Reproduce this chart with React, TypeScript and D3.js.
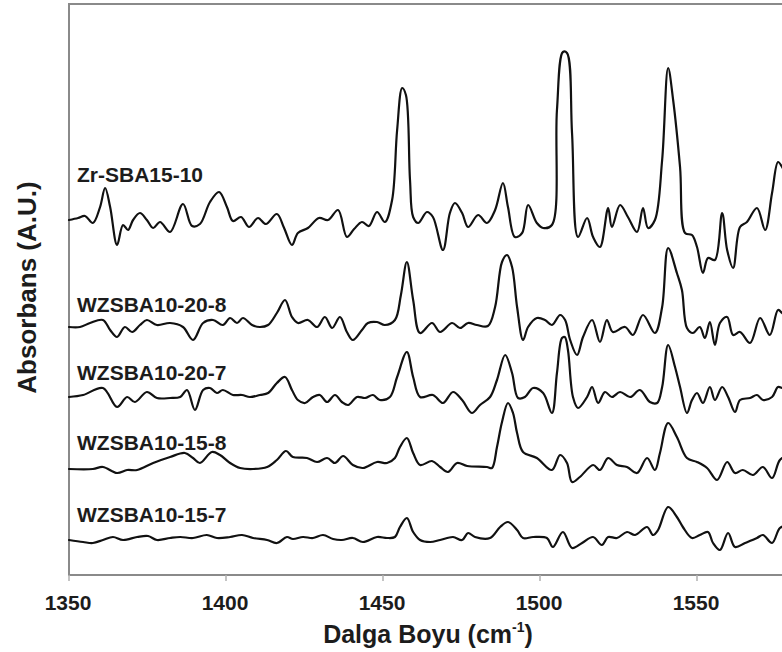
import React from "react";
import * as d3 from "d3";

type Pt = [number, number];

const seriesNames = ["Zr-SBA15-10", "WZSBA10-20-8", "WZSBA10-20-7", "WZSBA10-15-8", "WZSBA10-15-7"];

const zrSBA15_10: Pt[] = [[1350.0,35.5],[1352.9,35.7],[1355.1,35.9],[1357.6,35.2],[1359.9,36.8],[1361.5,38.7],[1363.1,36.8],[1365.3,33.0],[1367.2,35.0],[1368.8,34.5],[1370.4,35.5],[1372.6,36.2],[1374.8,35.5],[1376.8,34.7],[1379.0,35.3],[1382.2,34.3],[1386.3,37.1],[1389.2,34.9],[1391.7,35.1],[1394.9,37.3],[1397.8,38.3],[1400.3,36.8],[1402.2,35.4],[1404.8,35.8],[1407.3,34.8],[1410.2,35.7],[1412.7,35.1],[1416.2,36.1],[1418.5,34.7],[1421.0,33.0],[1422.9,34.2],[1426.1,34.7],[1429.6,35.7],[1432.5,35.5],[1435.7,36.5],[1438.5,33.8],[1440.8,34.6],[1443.3,35.3],[1445.5,34.9],[1448.1,36.3],[1450.6,35.3],[1452.9,37.5],[1454.5,44.5],[1456.1,48.7],[1457.3,48.0],[1458.6,39.5],[1459.6,35.8],[1461.2,35.2],[1464.0,36.3],[1465.9,35.8],[1469.1,32.5],[1471.3,36.2],[1472.9,37.2],[1475.2,36.2],[1477.1,34.8],[1480.3,36.0],[1483.1,35.2],[1485.7,36.5],[1488.2,39.2],[1489.8,36.8],[1492.0,33.8],[1494.3,34.2],[1496.2,37.0],[1499.0,35.2],[1501.0,34.7],[1503.8,35.0],[1505.4,46.5],[1507.3,52.3],[1508.6,52.2],[1510.2,44.2],[1512.1,33.8],[1515.0,35.7],[1516.9,33.8],[1519.1,32.8],[1521.7,36.7],[1522.9,34.8],[1525.5,37.0],[1528.0,35.8],[1530.9,34.3],[1532.8,36.7],[1534.4,34.7],[1536.6,35.5],[1538.9,41.5],[1540.8,50.7],[1542.4,47.5],[1544.6,40.8],[1546.2,34.2],[1548.4,34.0],[1550.0,32.8],[1551.9,30.2],[1553.5,31.7],[1555.7,31.5],[1558.0,36.2],[1559.6,32.5],[1561.5,30.7],[1563.7,34.8],[1565.9,35.3],[1569.1,36.7],[1571.7,34.5],[1573.9,38.2],[1575.8,41.3],[1577.1,40.8],[1579.0,39.5]];

const wzsba10_20_8: Pt[] = [[1350.0,24.8],[1353.5,24.8],[1356.7,25.2],[1360.8,25.5],[1363.1,24.5],[1365.3,23.8],[1367.8,24.8],[1370.1,24.3],[1372.6,25.0],[1374.8,25.5],[1378.0,25.0],[1382.2,25.2],[1386.3,24.8],[1389.5,23.5],[1392.7,25.2],[1395.9,25.5],[1399.0,25.0],[1401.3,25.7],[1403.5,25.2],[1405.4,25.7],[1408.3,25.0],[1410.8,24.8],[1413.4,25.0],[1416.2,26.2],[1418.8,27.5],[1421.0,25.8],[1422.9,25.2],[1426.1,25.5],[1429.0,24.8],[1431.5,25.8],[1433.8,24.7],[1436.3,25.8],[1438.5,24.3],[1440.4,23.5],[1443.3,24.5],[1445.2,25.2],[1448.1,25.3],[1450.6,25.0],[1453.8,25.5],[1455.7,28.0],[1457.6,31.3],[1459.6,27.5],[1461.8,24.2],[1465.6,25.2],[1468.2,24.3],[1472.0,25.2],[1474.5,24.7],[1477.1,25.2],[1479.9,25.0],[1483.4,24.9],[1485.7,26.8],[1487.9,31.3],[1489.5,32.0],[1491.1,30.8],[1492.7,26.8],[1494.6,23.5],[1496.2,24.8],[1499.0,25.7],[1501.6,25.5],[1503.8,25.0],[1506.4,26.0],[1508.0,25.5],[1509.6,23.5],[1511.8,22.0],[1513.7,23.8],[1516.6,25.5],[1519.1,23.3],[1521.3,25.5],[1523.2,24.3],[1527.1,24.8],[1529.6,24.0],[1532.8,26.0],[1536.6,24.2],[1538.9,26.8],[1540.8,32.7],[1543.6,30.2],[1545.2,28.5],[1546.8,24.7],[1548.7,24.2],[1550.9,24.8],[1552.5,23.7],[1554.1,25.3],[1555.7,23.0],[1557.3,25.2],[1559.6,25.8],[1561.5,24.0],[1563.7,24.3],[1566.9,23.2],[1570.1,25.7],[1573.2,24.0],[1575.8,26.5],[1577.1,26.2],[1579.0,25.5]];

const wzsba10_20_7: Pt[] = [[1350.0,17.8],[1354.5,18.0],[1360.8,18.7],[1365.3,16.8],[1368.5,17.8],[1371.0,17.3],[1374.8,18.3],[1378.0,17.7],[1382.2,17.7],[1385.4,17.8],[1387.6,18.5],[1390.1,16.5],[1392.7,18.5],[1394.9,18.7],[1397.1,18.2],[1399.0,18.5],[1402.2,18.0],[1405.1,18.0],[1407.6,17.8],[1410.8,18.0],[1413.4,18.2],[1416.2,19.2],[1418.8,19.8],[1421.0,18.5],[1422.9,17.5],[1425.2,17.2],[1427.7,17.8],[1429.9,18.0],[1432.2,17.3],[1434.7,18.0],[1436.9,17.3],[1438.9,17.0],[1441.7,17.8],[1444.3,17.7],[1446.8,18.0],[1449.0,17.5],[1452.2,17.8],[1454.5,19.8],[1457.6,22.3],[1459.6,19.8],[1461.8,17.8],[1465.9,18.0],[1469.1,17.2],[1472.3,18.3],[1475.2,17.5],[1478.3,16.2],[1480.9,17.0],[1484.1,17.8],[1486.3,19.5],[1488.9,22.0],[1491.1,20.2],[1493.0,17.7],[1495.2,17.8],[1497.8,18.7],[1501.0,18.2],[1503.8,16.2],[1505.4,20.2],[1507.0,23.7],[1507.9,23.8],[1508.9,22.5],[1510.5,17.8],[1512.1,16.7],[1515.0,17.8],[1516.6,18.8],[1518.5,17.2],[1520.7,18.3],[1522.9,17.8],[1525.5,18.3],[1528.7,17.8],[1531.8,18.5],[1535.0,17.3],[1537.3,17.2],[1538.9,18.8],[1540.8,23.0],[1543.0,20.8],[1544.6,18.8],[1546.8,16.2],[1548.4,17.5],[1550.0,18.2],[1551.9,17.2],[1554.1,18.8],[1555.7,17.5],[1558.0,18.8],[1559.9,17.8],[1562.1,16.3],[1563.7,17.5],[1566.9,17.7],[1569.1,18.0],[1571.0,17.5],[1573.9,17.8],[1575.8,18.8],[1577.1,18.7],[1579.0,18.5]];

const wzsba10_15_8: Pt[] = [[1350.0,10.6],[1357.6,10.6],[1360.8,10.8],[1365.3,10.2],[1368.5,10.5],[1371.7,10.5],[1376.8,11.2],[1382.2,11.8],[1386.9,12.2],[1389.5,11.7],[1391.7,11.2],[1395.5,12.3],[1398.1,12.0],[1401.3,11.2],[1404.5,10.7],[1408.6,10.6],[1413.1,10.8],[1416.2,11.5],[1419.1,12.4],[1421.3,11.8],[1425.8,11.7],[1429.0,11.3],[1432.2,11.7],[1434.7,11.2],[1437.3,11.9],[1440.4,11.0],[1443.6,10.7],[1448.1,11.3],[1451.3,11.2],[1453.8,11.7],[1455.4,12.8],[1457.6,13.7],[1459.6,12.2],[1461.8,11.0],[1465.6,11.4],[1468.2,10.8],[1470.7,10.3],[1473.6,11.2],[1476.8,10.9],[1483.1,10.8],[1484.7,10.7],[1486.3,12.8],[1487.9,15.3],[1489.8,17.2],[1491.4,16.2],[1492.7,14.2],[1494.6,12.3],[1499.0,11.7],[1503.8,10.5],[1506.4,12.0],[1508.6,11.2],[1510.2,9.3],[1512.7,9.8],[1516.9,11.0],[1519.1,10.5],[1521.7,11.7],[1524.5,11.0],[1527.7,10.8],[1530.9,10.2],[1534.1,11.7],[1536.6,10.5],[1538.2,12.2],[1540.8,15.2],[1543.6,13.8],[1546.8,11.7],[1550.0,11.3],[1553.2,10.7],[1556.4,9.5],[1559.6,11.3],[1562.1,10.2],[1564.6,10.5],[1567.8,10.0],[1571.0,10.8],[1573.9,9.7],[1576.4,11.5],[1579.0,12.0]];

const wzsba10_15_7: Pt[] = [[1350.0,3.5],[1354.5,3.3],[1357.6,3.2],[1360.8,3.5],[1364.0,3.8],[1367.2,3.5],[1371.7,3.8],[1375.2,3.9],[1378.0,3.5],[1382.2,3.7],[1385.4,3.8],[1389.5,3.7],[1393.9,4.0],[1397.1,3.7],[1401.3,3.8],[1405.1,4.0],[1408.6,3.7],[1413.1,3.5],[1416.2,3.2],[1419.4,3.8],[1421.3,3.6],[1424.5,3.8],[1427.7,3.7],[1430.9,4.0],[1434.1,3.6],[1436.9,3.5],[1440.4,3.7],[1443.6,3.3],[1448.1,3.8],[1451.3,3.7],[1453.8,3.8],[1455.4,4.8],[1457.6,5.7],[1459.6,4.3],[1461.8,3.5],[1465.0,3.3],[1468.2,3.5],[1472.3,3.8],[1475.2,3.5],[1477.1,4.2],[1479.3,3.8],[1484.1,3.7],[1487.3,4.8],[1489.8,5.3],[1492.7,4.5],[1494.6,3.7],[1497.8,3.8],[1502.2,3.7],[1504.1,2.8],[1507.3,4.3],[1510.2,2.7],[1513.4,3.2],[1516.9,3.8],[1519.7,3.0],[1521.7,3.8],[1524.5,3.7],[1527.7,4.3],[1530.3,4.0],[1534.1,4.8],[1536.0,4.0],[1537.6,4.5],[1540.8,6.8],[1543.6,5.8],[1545.5,4.8],[1548.4,3.7],[1550.9,4.0],[1553.5,4.3],[1555.1,3.2],[1557.3,2.5],[1559.9,4.2],[1562.1,2.8],[1565.3,3.2],[1569.1,3.7],[1571.0,4.0],[1573.9,3.2],[1576.4,4.7],[1579.0,5.0]];

const seriesData: Pt[][] = [zrSBA15_10, wzsba10_20_8, wzsba10_20_7, wzsba10_15_8, wzsba10_15_7];

const xTicks = [1350, 1400, 1450, 1500, 1550];
const xDomain: [number, number] = [1350, 1580];
const yDomain: [number, number] = [0, 57.1];
const xTitle = "Dalga Boyu (cm";
const xTitleSup = "-1";
const yTitle = "Absorbans (A.U.)";

// layout (label anchor levels expressed in axis units)
const labelLevels = [39.3, 26.3, 19.5, 12.5, 5.3];

const W = 782;
const H = 652;
const M = { left: 69, top: 4, bottom: 575 };
const FONT = "'Liberation Sans', Arial, Helvetica, sans-serif";
const TXT = "#1c1c1c";

export default function App() {
  const x = d3.scaleLinear().domain(xDomain).range([M.left, M.left + (xDomain[1] - xDomain[0]) * 3.14]);
  const y = d3.scaleLinear().domain(yDomain).range([M.bottom, M.top]);
  const line = d3
    .line<Pt>()
    .x((d) => x(d[0]))
    .y((d) => y(d[1]))
    .curve(d3.curveCatmullRom.alpha(0.5));

  const x0 = x(xDomain[0]);
  const x1 = x(xDomain[1]);

  return (
    <svg
      width={W}
      height={H}
      style={{ position: "absolute", left: 0, top: 0, background: "#fff" }}
      fontFamily={FONT}
    >
      <rect x={0} y={0} width={W} height={H} fill="#fff" />
      {/* frame */}
      <rect
        x={x0}
        y={y(yDomain[1])}
        width={x1 - x0}
        height={y(yDomain[0]) - y(yDomain[1])}
        fill="none"
        stroke="#8a8a8a"
        strokeWidth={2}
      />
      {/* ticks */}
      {xTicks.map((t) => (
        <g key={t}>
          <line x1={x(t)} x2={x(t)} y1={y(0)} y2={y(0) + 6} stroke="#b0b0b0" strokeWidth={1.5} />
          <text
            x={x(t) - 1}
            y={610}
            textAnchor="middle"
            fontSize={21}
            fontWeight="bold"
            fill={TXT}
          >
            {t}
          </text>
        </g>
      ))}
      {/* spectra */}
      {seriesData.map((s, i) => (
        <path
          key={seriesNames[i]}
          d={line(s) || ""}
          fill="none"
          stroke="#111"
          strokeWidth={2.2}
          strokeLinejoin="round"
          strokeLinecap="round"
        />
      ))}
      {/* series labels */}
      {seriesNames.map((n, i) => (
        <text
          key={n}
          x={77}
          y={y(labelLevels[i])}
          fontSize={21}
          fontWeight="bold"
          fill={TXT}
        >
          {n}
        </text>
      ))}
      {/* x title */}
      <text x={428} y={643} textAnchor="middle" fontSize={25} fontWeight="bold" fill={TXT}>
        {xTitle}
        <tspan fontSize={14} dy={-11}>{xTitleSup}</tspan>
        <tspan dy={11}>)</tspan>
      </text>
      {/* y title */}
      <text
        transform={`translate(36, ${(y(yDomain[0]) + y(yDomain[1])) / 2 - 2}) rotate(-90)`}
        textAnchor="middle"
        fontSize={26}
        fontWeight="bold"
        fill={TXT}
      >
        {yTitle}
      </text>
    </svg>
  );
}
